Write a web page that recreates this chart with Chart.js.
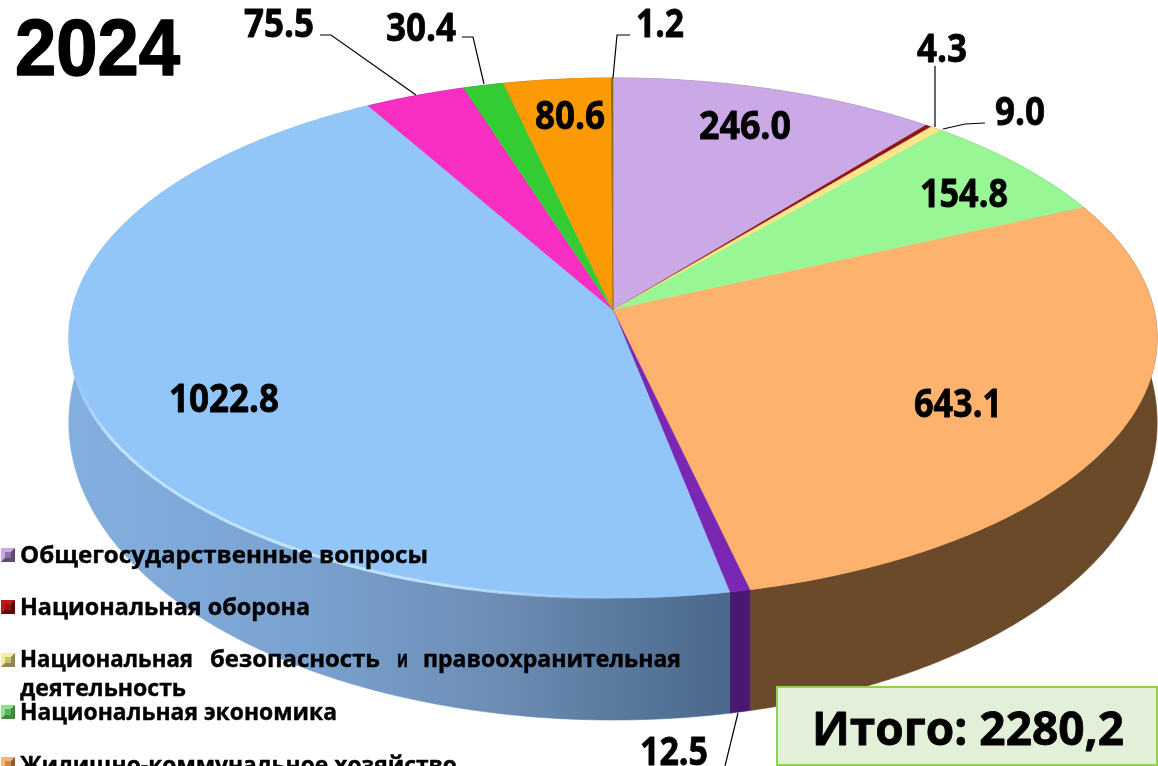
<!DOCTYPE html>
<html><head><meta charset="utf-8">
<style>html,body{margin:0;padding:0;background:#fff;overflow:hidden}canvas{display:block}</style>
<script src="https://cdn.jsdelivr.net/npm/chart.js@4"></script>
</head><body><canvas id="c" width="1158" height="766"></canvas>
<script>
const categories = ["Общегосударственные вопросы","Национальная оборона","Национальная безопасность и правоохранительная деятельность","Национальная экономика","Жилищно-коммунальное хозяйство","Охрана окружающей среды","Образование","Культура, кинематография","Здравоохранение","Социальная политика","Физическая культура и спорт"];
const values = [246.0,4.3,9.0,154.8,643.1,12.5,1022.8,75.5,30.4,80.6,1.2];
const valueLabels = ["246.0","4.3","9.0","154.8","643.1","12.5","1022.8","75.5","30.4","80.6","1.2"];
const topColors = ["#cba9e6","#8f1414","#fde68a","#98f794","#fdb36e","#7a28b4","#93c6f8","#f92fc4","#33cc33","#fb9a05","#8a6a10"];
const sideColors = ["#7c6690","#500a0a","#9a8c50","#5d975a","#6b4a2a","#4a1870","#6f90b8","#981c78","#1f7c1f","#995e03","#54400a"];
const legendIcons = [["#cba9e6","#8d70a8","#5f4a75"],["#c01818","#8f1414","#5a0a0a"],["#f6ec9a","#c8c070","#8f8a50"],["#8fe08c","#5fb05c","#3c8c3a"],["#fdb36e","#c98a50","#8f5f30"]];
const title = "2024";
const totalText = "Итого: 2280,2";

const G = {cx:613, cy:310, A:541, B:257, k:0.1077, depth0:80, depthV:42};
function proj(a, lower){
  const u=Math.sin(a), v=-Math.cos(a), d=1-G.k*v;
  const X=G.cx+G.A*u/d; let Y=G.cy+G.B*v/d;
  if(lower) Y+=G.depth0+G.depthV*v;
  return [X,Y];
}
const toA = t => t+Math.PI/2;
function rimPath(ctx,a1,a2,lower,first){
  const n=Math.max(2,Math.ceil(Math.abs(a2-a1)/0.01));
  for(let i=0;i<=n;i++){
    const p=proj(a1+(a2-a1)*i/n,lower);
    if(i===0&&first) ctx.moveTo(p[0],p[1]); else ctx.lineTo(p[0],p[1]);
  }
}
function fit(ctx,text,x,base,w,font,weight){
  ctx.save();
  ctx.font=font; ctx.textAlign="left"; ctx.textBaseline="alphabetic";
  const m=ctx.measureText(text).width;
  ctx.translate(x,base); ctx.scale(w/m,1);
  ctx.fillStyle="#000"; ctx.fillText(text,0,0);
  if(weight){ctx.strokeStyle="#000"; ctx.lineWidth=weight; ctx.lineJoin="round"; ctx.strokeText(text,0,0);}
  ctx.restore();
}
const labelFont='bold 39px "Open Sans"';
const labelLayout=[[699,139,92],[917,62,50],[995,125,50],[920,207,88],[914,417,88],[640,765,68],[169,412,110],[244,37,70],[386,41,70],[535,129,70],[636,37,48]];
const leaders=[null,[[935,66],[935,127]],[[985,123],[965,124],[943,129]],null,null,[[738,713],[725,766]],null,[[320,35],[331,35],[416,95]],[[462,37],[473,37],[484,84]],null,[[630,35],[617,35],[613,78]]];
const legendRows=[[20,563,408],[20,615,290],null,[20,720,317],[20,773,437]];

const pie3d={
  id:"pie3d",
  beforeDatasetDraw(chart){
    const ctx=chart.ctx, arcs=chart.getDatasetMeta(0).data;
    arcs.forEach((el,i)=>{
      const a1=toA(el.startAngle), a2=toA(el.endAngle);
      ctx.beginPath(); rimPath(ctx,a1,a2,false,true); rimPath(ctx,a2,a1,true,false); ctx.closePath();
      let f=sideColors[i];
      if(i===6){
        const g=ctx.createLinearGradient(72,0,735,0);
        g.addColorStop(0,"#83afe0"); g.addColorStop(.35,"#7aa2d0"); g.addColorStop(.65,"#6c8cb4"); g.addColorStop(1,"#48678a");
        f=g;
      }
      ctx.fillStyle=f; ctx.fill();
      ctx.strokeStyle=f; ctx.lineWidth=.6; ctx.stroke();
    });
    arcs.forEach((el,i)=>{
      const a1=toA(el.startAngle), a2=toA(el.endAngle);
      ctx.beginPath(); ctx.moveTo(G.cx,G.cy); rimPath(ctx,a1,a2,false,false); ctx.closePath();
      ctx.fillStyle=topColors[i]; ctx.fill();
      ctx.strokeStyle=topColors[i]; ctx.lineWidth=.6; ctx.stroke();
    });
    const blue=arcs[6];
    const hg=ctx.createLinearGradient(72,0,620,0);
    hg.addColorStop(0,"rgba(196,230,255,0)"); hg.addColorStop(.07,"rgba(196,230,255,.95)");
    hg.addColorStop(.7,"rgba(196,230,255,.9)"); hg.addColorStop(1,"rgba(196,230,255,0)");
    ctx.save();
    ctx.beginPath(); rimPath(ctx,toA(blue.startAngle),toA(blue.startAngle)+1.75,false,true);
    ctx.strokeStyle=hg; ctx.lineWidth=3; ctx.stroke(); ctx.restore();
    return false;
  },
  afterDatasetsDraw(chart){
    const ctx=chart.ctx;
    ctx.strokeStyle="#000"; ctx.lineWidth=1.2;
    leaders.forEach(l=>{ if(!l) return;
      ctx.beginPath(); l.forEach((p,j)=> j?ctx.lineTo(p[0],p[1]):ctx.moveTo(p[0],p[1])); ctx.stroke();
    });
    valueLabels.forEach((t,i)=>{const l=labelLayout[i]; fit(ctx,t,l[0],l[1],l[2],labelFont,.8);});
    fit(ctx,title,15,75,165,'bold 80px "Liberation Sans"',1.5);
    const lf='bold 23px "Open Sans"';
    legendRows.forEach((r,i)=>{
      const y=[555,607,660,712,764][i], c=legendIcons[i];
      ctx.fillStyle=c[1]; ctx.fillRect(1,y-7,14,14);
      ctx.fillStyle=c[0]; ctx.beginPath(); ctx.moveTo(1,y-7); ctx.lineTo(15,y-7); ctx.lineTo(11,y-3); ctx.lineTo(5,y-3); ctx.lineTo(5,y+3); ctx.lineTo(1,y+7); ctx.closePath(); ctx.fill();
      ctx.fillStyle=c[2]; ctx.beginPath(); ctx.moveTo(15,y-7); ctx.lineTo(15,y+7); ctx.lineTo(1,y+7); ctx.lineTo(5,y+3); ctx.lineTo(11,y+3); ctx.lineTo(11,y-3); ctx.closePath(); ctx.fill();
      if(r) fit(ctx,categories[i],r[0],r[1],r[2],lf,.4);
    });
    const words=categories[2].split(" ").slice(0,4), wid=[173,170,11,258], xs=[20,210,397,423];
    words.forEach((w,j)=>fit(ctx,w,xs[j],667,wid[j],lf,.4));
    fit(ctx,categories[2].split(" ")[4],20,696,166,lf,.4);
    ctx.fillStyle="#e2efd9"; ctx.fillRect(777,687,380,78);
    ctx.strokeStyle="#92d050"; ctx.lineWidth=2; ctx.strokeRect(777,687,380,78);
    fit(ctx,totalText,812,745,312,'bold 46px "Open Sans"',.8);
  }
};
new Chart(document.getElementById("c"),{
  type:"pie",
  data:{labels:categories,datasets:[{data:values,backgroundColor:topColors,borderWidth:0}]},
  options:{responsive:false,animation:false,plugins:{legend:{display:false},tooltip:{enabled:false}}},
  plugins:[pie3d]
});
</script></body></html>
